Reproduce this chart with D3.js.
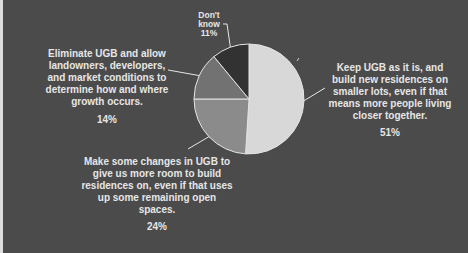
<!DOCTYPE html>
<html>
<head>
<meta charset="utf-8">
<script src="https://cdn.jsdelivr.net/npm/d3@7"></script>
<style>
  html, body { margin: 0; padding: 0; background: #4a4a4a; }
  svg { display: block; }
</style>
</head>
<body>
<div id="chart"></div>
<script>
// Survey answers, clockwise from 12 o'clock
const answers = ['Keep', 'Change', 'Eliminate', 'DontKnow']
const shares = [51, 24, 14, 11]
const answerLines = [
  ['Keep UGB as it is, and', 'build new residences on', 'smaller lots, even if that', 'means more people living', 'closer together.'],
  ['Make some changes in UGB to', 'give us more room to build', 'residences on, even if that uses', 'up some remaining open', 'spaces.'],
  ['Eliminate UGB and allow', 'landowners, developers,', 'and market conditions to', 'determine how and where', 'growth occurs.'],
  ['Don\'t', 'know']
]

// Canvas
const width = 468,
  height = 253,
  cx = 249,
  cy = 99,
  radius = 55

const svg = d3.select('#chart')
  .append('svg')
  .attr('width', width)
  .attr('height', height)
  .style('font-family', '"Liberation Sans", Arial, sans-serif')

svg.append('rect')
  .attr('width', width)
  .attr('height', height)
  .attr('fill', '#4b4b4b')
svg.append('rect')
  .attr('width', 3)
  .attr('height', height)
  .attr('fill', '#dedede')

const color = d3.scaleOrdinal()
  .domain(answers)
  .range(['#d8d8d8', '#8b8b8b', '#727272', '#323232'])

const pie = d3.pie().sort(null).value((d, i) => shares[i])
const arcs = pie(answers)
const arc = d3.arc().innerRadius(0).outerRadius(radius)

const g = svg.append('g').attr('transform', `translate(${cx},${cy})`)

g.selectAll('path')
  .data(arcs)
  .enter()
  .append('path')
  .attr('d', arc)
  .attr('fill', d => color(d.data))
  .attr('stroke', '#e4e4e4')
  .attr('stroke-width', 1)

// label blocks: centre x, first line y, line gap, font size
const labelLayout = {
  Keep: { x: 390, y: 67, gap: 12, size: 10, pctGap: 17 },
  Change: { x: 157, y: 161, gap: 12, size: 10, pctGap: 17 },
  Eliminate: { x: 107, y: 53, gap: 12, size: 10, pctGap: 18 },
  DontKnow: { x: 209, y: 15, gap: 9, size: 8.5, pctGap: 9 }
}

// leader ends, off the pie
const leaderEnds = {
  Keep: [[325, 88]],
  Change: [[188, 149]],
  Eliminate: [[168, 70]],
  DontKnow: [[227, 24], [223, 24]]
}

const pointAt = (a, r) => [cx + Math.sin(a) * r, cy - Math.cos(a) * r]

arcs.forEach((d, i) => {
  const key = answers[i]
  const mid = (d.startAngle + d.endAngle) / 2
  const pts = [pointAt(mid, radius)].concat(leaderEnds[key])
  svg.append('path')
    .attr('d', d3.line()(pts))
    .attr('fill', 'none')
    .attr('stroke', '#e6e6e6')
    .attr('stroke-width', 1)

  const L = labelLayout[key]
  const t = svg.append('g')
    .attr('fill', '#e6e6e6')
    .attr('font-size', L.size)
    .attr('font-weight', 'bold')
    .attr('text-anchor', 'middle')
  answerLines[i].forEach((line, j) => {
    t.append('text')
      .attr('x', L.x)
      .attr('y', L.y + j * L.gap)
      .attr('dy', '0.35em')
      .text(line)
  })
  t.append('text')
    .attr('x', L.x)
    .attr('y', L.y + (answerLines[i].length - 1) * L.gap + L.pctGap)
    .attr('dy', '0.35em')
    .text(shares[i] + '%')
})

// small stray tick on the right of the pie
svg.append('line')
  .attr('x1', 297).attr('y1', 61)
  .attr('x2', 299).attr('y2', 58)
  .attr('stroke', '#d0d0d0')
  .attr('stroke-width', 1)
</script>
</body>
</html>
